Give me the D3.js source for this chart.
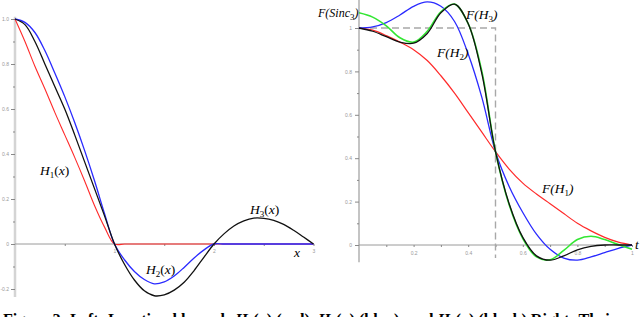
<!DOCTYPE html>
<html>
<head>
<meta charset="utf-8">
<script src="https://cdn.jsdelivr.net/npm/d3@7"></script>
<style>
  html, body { margin:0; padding:0; background:#fff; }
  svg { display:block; }
  .tk text { font-family:"Liberation Sans", sans-serif; font-size:5px; fill:#999; }
  .tk line { stroke:#888; }
  .lbl { font-family:"Liberation Serif", serif; font-style:italic; font-size:13.5px; fill:#000; }
  .cap { font-family:"Liberation Serif", serif; font-weight:bold; font-size:16px; fill:#000; }
</style>
</head>
<body>
<svg id="chart" width="640" height="317"></svg>
<script>
/* ── left panel: kernels H1, H2, H3 on [0,3] ── */
const xsLeft = d3.range(0, 3.001, 0.1).map(v => +v.toFixed(1));
const h1 = [1, 0.9, 0.79, 0.69, 0.585, 0.485, 0.385, 0.28, 0.17, 0.075, 0,
            0, 0, 0, 0, 0, 0, 0, 0, 0, 0,
            0, 0, 0, 0, 0, 0, 0, 0, 0, 0];
const h2 = [1, 0.985, 0.94, 0.86, 0.76, 0.655, 0.54, 0.415, 0.28, 0.135, 0,
            -0.07, -0.122, -0.158, -0.177, -0.168, -0.142, -0.104, -0.062, -0.026, 0,
            0, 0, 0, 0, 0, 0, 0, 0, 0, 0];
const h3 = [1, 0.975, 0.9, 0.8, 0.7, 0.6, 0.485, 0.365, 0.245, 0.125, 0,
            -0.09, -0.16, -0.208, -0.23, -0.226, -0.205, -0.17, -0.118, -0.058, 0,
            0.045, 0.08, 0.103, 0.115, 0.114, 0.105, 0.087, 0.061, 0.031, 0];
const leftYTicks = [-0.2, 0, 0.2, 0.4, 0.6, 0.8, 1.0];
const leftYLabels = ['-0.2', '0', '0.2', '0.4', '0.6', '0.8', '1.0'];
const leftXLabels = [1, 2, 3];

/* ── right panel: Fourier transforms on [0,1] ── */
const xsRight = d3.range(0, 1.001, 0.05).map(v => +v.toFixed(2));
const fH1 = [1, 0.99, 0.965, 0.935, 0.9, 0.85, 0.78, 0.7, 0.61, 0.52, 0.43,
             0.35, 0.285, 0.235, 0.19, 0.145, 0.1, 0.065, 0.035, 0.013, 0];
const fH2 = [1, 1.005, 1.025, 1.06, 1.1, 1.12, 1.1, 1.03, 0.88, 0.68, 0.43,
             0.27, 0.15, 0.05, -0.02, -0.06, -0.07, -0.055, -0.035, -0.015, 0];
const fH3 = [1, 0.985, 0.96, 0.935, 0.93, 0.975, 1.07, 1.11, 1.02, 0.79, 0.43,
             0.19, 0.035, -0.05, -0.07, -0.05, -0.022, -0.006, 0, 0, 0];
const fSinc3 = [1.07, 1.05, 1.01, 0.955, 0.935, 0.985, 1.075, 1.11, 1.02, 0.8, 0.43,
                0.185, 0.03, -0.055, -0.068, -0.025, 0.025, 0.04, 0.025, 0.002, -0.02];
const rightYTicks = [0, 0.2, 0.4, 0.6, 0.8, 1];
const rightYLabels = ['0', '0.2', '0.4', '0.6', '0.8', '1'];
const rightXTicks = [0.2, 0.4, 0.6, 0.8, 1];
const rightXLabels = ['0.2', '0.4', '0.6', '0.8', '1'];

const RED = '#ff2a2a', BLUE = '#2a2aff', BLACK = '#111', GREEN = '#33e633';

const svg = d3.select('#chart');

/* scales */
const xL = d3.scaleLinear().domain([0, 3]).range([15, 313.5]);
const yL = d3.scaleLinear().domain([-0.2, 1]).range([289, 19]);
const xR = d3.scaleLinear().domain([0, 1]).range([359, 632]);
const yR = d3.scaleLinear().domain([0, 1]).range([245, 28]);

/* ── left axes ── */
const gL = svg.append('g');
gL.append('line')
  .attr('x1', xL(0)).attr('x2', xL(0))
  .attr('y1', yL(1.01)).attr('y2', yL(-0.235))
  .attr('stroke', '#d4d4d4').attr('stroke-width', 2.5);
gL.append('line')
  .attr('x1', xL(0)).attr('x2', xL(3))
  .attr('y1', yL(0)).attr('y2', yL(0))
  .attr('stroke', '#9a9a9a').attr('stroke-width', 1);

gL.append('g').attr('class', 'tk').attr('transform', 'translate(' + xL(0) + ',0)')
  .call(d3.axisLeft(yL).tickValues(leftYTicks).tickSize(4).tickPadding(2)
    .tickFormat((d, i) => leftYLabels[i]))
  .call(g => g.select('.domain').remove());
gL.append('g').attr('class', 'tk').attr('transform', 'translate(' + xL(0) + ',0)')
  .call(d3.axisLeft(yL).tickValues(d3.range(-0.1, 1, 0.2)).tickSize(2).tickFormat(''))
  .call(g => g.select('.domain').remove());
gL.append('g').attr('class', 'tk').attr('transform', 'translate(0,' + yL(0) + ')')
  .call(d3.axisBottom(xL).tickValues([0.5, 1, 1.5, 2, 2.5, 3]).tickSize(2).tickPadding(3)
    .tickFormat(d => leftXLabels.includes(d) ? d : ''))
  .call(g => g.select('.domain').remove());

/* ── left curves ── */
const lineL = d3.line().x(d => xL(d[0])).y(d => yL(d[1])).curve(d3.curveCatmullRom.alpha(0.5));
[[h1, RED, 1.1], [h2, BLUE, 1.3], [h3, BLACK, 1.3]].forEach(([vals, col, w]) => {
  svg.append('path')
    .datum(xsLeft.map((x, i) => [x, vals[i]]))
    .attr('d', lineL).attr('fill', 'none')
    .attr('stroke', col).attr('stroke-width', w);
});

/* ── right axes ── */
const gR = svg.append('g');
gR.append('line')
  .attr('x1', xR(0)).attr('x2', xR(0))
  .attr('y1', yR(1.13)).attr('y2', yR(-0.08))
  .attr('stroke', '#b0b0b0').attr('stroke-width', 1.5);
gR.append('line')
  .attr('x1', xR(0)).attr('x2', xR(1))
  .attr('y1', yR(0)).attr('y2', yR(0))
  .attr('stroke', '#9a9a9a').attr('stroke-width', 1);

gR.append('g').attr('class', 'tk').attr('transform', 'translate(' + xR(0) + ',0)')
  .call(d3.axisLeft(yR).tickValues(rightYTicks).tickSize(4).tickPadding(3)
    .tickFormat((d, i) => rightYLabels[i]))
  .call(g => g.select('.domain').remove());
gR.append('g').attr('class', 'tk').attr('transform', 'translate(' + xR(0) + ',0)')
  .call(d3.axisLeft(yR).tickValues(d3.range(0.1, 1, 0.2)).tickSize(2).tickFormat(''))
  .call(g => g.select('.domain').remove());
gR.append('g').attr('class', 'tk').attr('transform', 'translate(0,' + yR(0) + ')')
  .call(d3.axisBottom(xR).tickValues(rightXTicks).tickSize(2).tickPadding(4)
    .tickFormat((d, i) => rightXLabels[i]))
  .call(g => g.select('.domain').remove());
gR.append('g').attr('class', 'tk').attr('transform', 'translate(0,' + yR(0) + ')')
  .call(d3.axisBottom(xR).tickValues(d3.range(0.1, 1, 0.2)).tickSize(2).tickFormat(''))
  .call(g => g.select('.domain').remove());

/* ideal low-pass box, dashed */
svg.append('path')
  .datum([[0, 1], [0.5, 1], [0.5, -0.06]])
  .attr('d', d3.line().x(d => xR(d[0])).y(d => yR(d[1])))
  .attr('fill', 'none').attr('stroke', '#a8a8a8')
  .attr('stroke-width', 1.4).attr('stroke-dasharray', '7,4');

/* ── right curves ── */
const lineR = d3.line().x(d => xR(d[0])).y(d => yR(d[1])).curve(d3.curveCatmullRom.alpha(0.5));
[[fH1, RED, 1.2], [fH2, BLUE, 1.3], [fSinc3, GREEN, 1.6], [fH3, BLACK, 1.3]].forEach(([vals, col, w]) => {
  svg.append('path')
    .datum(xsRight.map((x, i) => [x, vals[i]]))
    .attr('d', lineR).attr('fill', 'none')
    .attr('stroke', col).attr('stroke-width', w);
});

/* ── labels ── */
function fLabel(x, y, name, sub, size) {
  const t = svg.append('text').attr('class', 'lbl').attr('x', x).attr('y', y);
  if (size) t.style('font-size', size + 'px');
  t.append('tspan').text('F(' + name);
  t.append('tspan').attr('dy', 3).attr('font-size', 9).attr('font-style', 'normal').text(sub);
  t.append('tspan').attr('dy', -3).text(')');
}
function hLabel(x, y, sub) {
  const t = svg.append('text').attr('class', 'lbl').attr('x', x).attr('y', y);
  t.append('tspan').text('H');
  t.append('tspan').attr('dy', 3).attr('font-size', 9).attr('font-style', 'normal').text(sub);
  t.append('tspan').attr('dy', -3).attr('font-style', 'normal').text('(');
  t.append('tspan').text('x');
  t.append('tspan').attr('font-style', 'normal').text(')');
}
hLabel(40, 175, '1');
hLabel(146, 274, '2');
hLabel(250, 214, '3');
svg.append('text').attr('class', 'lbl').attr('x', 294).attr('y', 257).text('x');

fLabel(318, 17, 'Sinc', '3', 12);
fLabel(466, 19, 'H', '3');
fLabel(437, 57, 'H', '2');
fLabel(542, 193, 'H', '1');
svg.append('text').attr('class', 'lbl').attr('x', 635).attr('y', 249).text('t');

/* ── caption, cut off by the frame ── */
const cap = svg.append('text').attr('class', 'cap').attr('x', 3).attr('y', 325)
  .attr('textLength', 614).attr('lengthAdjust', 'spacingAndGlyphs');
cap.append('tspan').text('Figure 2: Left: L-optimal kernels ');
[['1', 'red'], ['2', 'blue'], ['3', 'black']].forEach(([s, c], i) => {
  cap.append('tspan').attr('font-style', 'italic').text('H');
  cap.append('tspan').attr('dy', 3).attr('font-size', 11).text(s);
  cap.append('tspan').attr('dy', -3).text('(');
  cap.append('tspan').attr('font-style', 'italic').text('x');
  cap.append('tspan').text(') (' + c + ')' + (i === 0 ? ', ' : i === 1 ? ', and ' : ' Right: Their'));
});
</script>
</body>
</html>
